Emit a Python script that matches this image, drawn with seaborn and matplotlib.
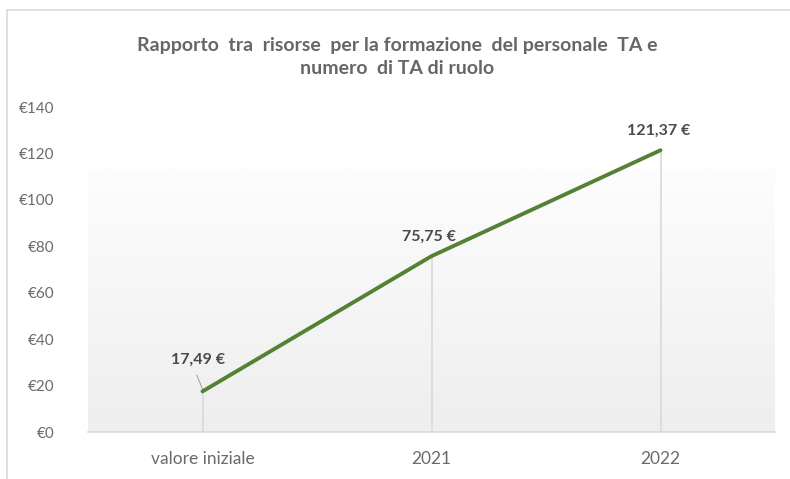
import numpy as np
import pandas as pd
import matplotlib
matplotlib.use("Agg")
import matplotlib.pyplot as plt
import seaborn as sns
from matplotlib.patches import Rectangle
from matplotlib.colors import LinearSegmentedColormap

categories = ["valore iniziale", "2021", "2022"]
values = [17.49, 75.75, 121.37]
value_labels = ["17,49 €", "75,75 €", "121,37 €"]
yticks = [0, 20, 40, 60, 80, 100, 120, 140]
ytick_labels = ["€0", "€20", "€40", "€60", "€80", "€100", "€120", "€140"]
title = "Rapporto  tra  risorse  per la formazione  del personale  TA e\nnumero  di TA di ruolo"

sns.set_theme(style="white")
plt.rcParams['font.family'] = ['Lato', 'DejaVu Sans']

df = pd.DataFrame({"cat": categories, "val": values})

fig = plt.figure(figsize=(7.9, 4.79), dpi=100)
ax = fig.add_axes([88/790, 47/479, 687/790, 325/479])
ax.set_facecolor("none")

# outer chart border
fig.patches.append(Rectangle((7/790, -0.05), 1.0, (479-10)/479 + 0.05,
                             transform=fig.transFigure, fill=False,
                             edgecolor="#d9d9d9", linewidth=1.2))

# gradient plot background
grad = np.linspace(0, 1, 100).reshape(-1, 1)
cmap = LinearSegmentedColormap.from_list("g", ["#eeeeee", "#fdfdfd"])
ax.imshow(grad, extent=[-0.5, 2.55, 0, 113], aspect="auto", cmap=cmap,
          origin="lower", zorder=0)

# drop lines
for i, v in enumerate(values):
    ax.plot([i, i], [0, v], color="#d9d9d9", linewidth=1.2, zorder=1)

sns.lineplot(data=df, x="cat", y="val", ax=ax, color="#548235", linewidth=2.8,
             sort=False, zorder=3)

ax.set_xlim(-0.5, 2.5)
ax.set_ylim(0, 140)
ax.set_yticks(yticks)
ax.set_yticklabels(ytick_labels)
ax.set_xlabel("")
ax.set_ylabel("")
for s in ["top", "right", "left"]:
    ax.spines[s].set_visible(False)
ax.spines["bottom"].set_color("#d9d9d9")
ax.spines["bottom"].set_linewidth(1.2)
ax.tick_params(axis="y", length=0, pad=24, labelsize=11, labelcolor="#6a6a6a")
ax.tick_params(axis="x", length=0, pad=14, labelsize=12.5, labelcolor="#6a6a6a")

# data labels
offsets = [(-0.02, 13.5), (-0.01, 8.5), (-0.01, 8.5)]
for i, (v, lab) in enumerate(zip(values, value_labels)):
    dx, dy = offsets[i]
    ax.text(i + dx, v + dy, lab, ha="center", va="center", fontsize=11.5,
            fontweight="bold", color="#4a4a4a", zorder=4)
# leader line for first label
ax.plot([-0.025, 0.0], [24.5, values[0] + 1], color="#a6a6a6", linewidth=0.8, zorder=2)

fig.text(397/790, 1 - 57/479, title, ha="center", va="center", fontsize=14,
         fontweight="bold", color="#666666", linespacing=1.45)

fig.savefig("out.png", dpi=100, facecolor="white")
